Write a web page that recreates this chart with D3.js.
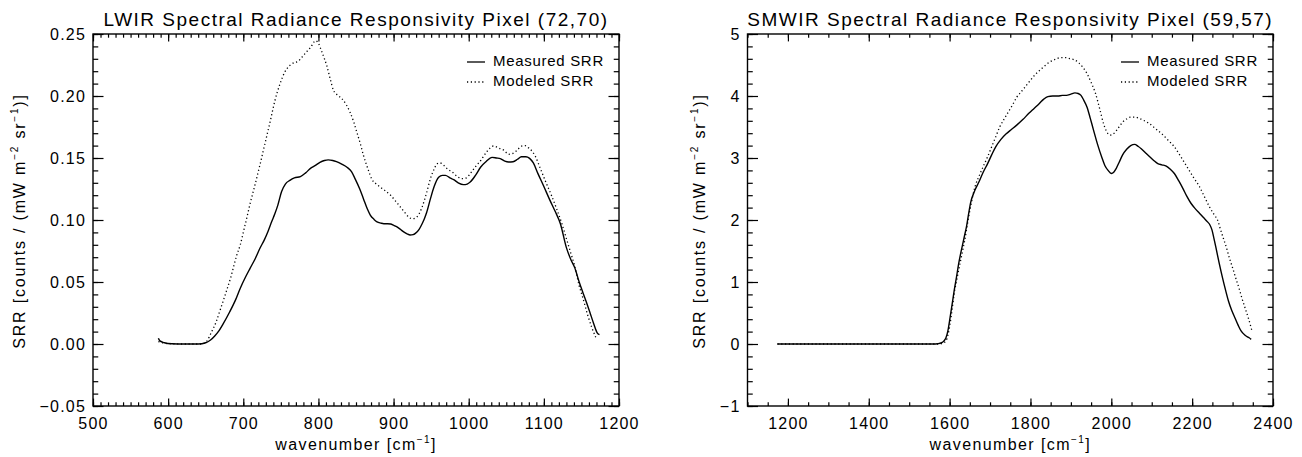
<!DOCTYPE html>
<meta charset="utf-8">
<style>
  body { margin: 0; padding: 0; background: #fff; }
  svg { display: block; font-family: "Liberation Sans", Arial, sans-serif; }
  .tick text { font-size: 16px; letter-spacing: 1.2px; fill: #000; }
  .domain { display: none; }
  .tick line { stroke: #000; stroke-width: 1.2; }
  .title { font-size: 19px; letter-spacing: 1.5px; }
  .axis-title { font-size: 16px; letter-spacing: 1.4px; }
  .y-title { letter-spacing: 1.8px; }
  .legend { font-size: 15px; letter-spacing: 0.7px; }
</style>
<script src="https://d3js.org/d3.v7.min.js"></script>
<body>
<div id="chart"></div>
<script>

// ---- LWIR panel, pixel (72,70) ----
var lwirMeasWn = [587, 589, 595, 605, 620, 640, 650, 656, 662, 668, 673, 682, 690, 696, 703, 709, 716, 722, 728, 733,
  738, 742, 746, 751, 756, 762, 768, 776, 783, 789, 796, 802, 808, 813, 819, 824, 831, 838, 844, 849,
  855, 860, 865, 869, 874, 878, 883, 887, 892, 896, 900, 904, 909, 913, 918, 922, 926, 929, 934, 938,
  941, 944, 949, 954, 960, 965, 969, 975, 980, 986, 993, 998, 1002, 1009, 1016, 1023, 1031, 1037, 1042, 1048,
  1053, 1059, 1065, 1070, 1076, 1081, 1086, 1092, 1100, 1108, 1115, 1122, 1130, 1136, 1141, 1147, 1152, 1157, 1161, 1166,
  1171, 1174];
var lwirMeas = [0.0046, 0.0025, 0.001, 0.0002, 0.0, 0.0, 0.001, 0.003, 0.0065, 0.011, 0.016, 0.026, 0.036, 0.045, 0.054, 0.061, 0.069, 0.077, 0.084, 0.091,
  0.099, 0.105, 0.112, 0.123, 0.129, 0.132, 0.134, 0.135, 0.138, 0.1414, 0.144, 0.1465, 0.148, 0.1485, 0.148, 0.147, 0.145, 0.1425, 0.139, 0.133,
  0.125, 0.117, 0.109, 0.104, 0.1005, 0.0985, 0.0975, 0.097, 0.097, 0.0968, 0.0958, 0.0946, 0.0925, 0.0906, 0.0888, 0.0879, 0.0882, 0.0892, 0.0925, 0.097,
  0.101, 0.106, 0.117, 0.127, 0.1345, 0.136, 0.136, 0.134, 0.1325, 0.130, 0.1285, 0.129, 0.1306, 0.136, 0.1427, 0.147, 0.1505, 0.150, 0.1495, 0.1475,
  0.1468, 0.147, 0.149, 0.151, 0.151, 0.1497, 0.146, 0.1376, 0.127, 0.116, 0.107, 0.097, 0.0777, 0.068, 0.0616, 0.050, 0.0414, 0.033, 0.026, 0.017,
  0.009, 0.0075];

var lwirModWn = [587, 600, 620, 645, 651, 658, 664, 669, 674, 678, 683, 687, 691, 696, 700, 704, 709, 715, 722, 729,
  736, 742, 749, 755, 762, 768, 773, 779, 784, 790, 796, 800, 804, 808, 811, 816, 820, 826, 831, 837,
  842, 847, 851, 856, 860, 866, 871, 877, 882, 889, 896, 903, 909, 915, 920, 925, 929, 934, 938, 944,
  949, 954, 958, 962, 967, 972, 978, 985, 991, 997, 1002, 1009, 1016, 1024, 1033, 1040, 1047, 1053, 1058, 1064,
  1070, 1075, 1080, 1085, 1089, 1095, 1103, 1110, 1117, 1124, 1130, 1136, 1141, 1147, 1152, 1158, 1164, 1170];
var lwirMod = [0.002, 0.0003, 0.0, 0.0, 0.002, 0.01, 0.018, 0.027, 0.036, 0.0435, 0.053, 0.062, 0.071, 0.08, 0.09, 0.1, 0.113, 0.127, 0.144, 0.162,
  0.18, 0.196, 0.21, 0.219, 0.2247, 0.227, 0.228, 0.232, 0.2355, 0.2395, 0.2445, 0.2425, 0.2365, 0.230, 0.2247, 0.213, 0.2046, 0.2005, 0.198, 0.193,
  0.187, 0.179, 0.171, 0.161, 0.152, 0.141, 0.133, 0.129, 0.1266, 0.1235, 0.12, 0.115, 0.1105, 0.106, 0.1024, 0.101, 0.1016, 0.105, 0.1105, 0.122,
  0.1333, 0.141, 0.1454, 0.146, 0.144, 0.141, 0.1387, 0.135, 0.1333, 0.134, 0.1374, 0.143, 0.148, 0.155, 0.1597, 0.158, 0.1562, 0.153, 0.1535, 0.156,
  0.1595, 0.16, 0.158, 0.155, 0.151, 0.142, 0.130, 0.12, 0.109, 0.097, 0.085, 0.073, 0.063, 0.047, 0.037, 0.024, 0.013, 0.004];

// ---- SMWIR panel, pixel (59,57) ----
var smwirMeasWn = [1174, 1250, 1350, 1450, 1520, 1560, 1570, 1580, 1586, 1591, 1596, 1601, 1606, 1611, 1617, 1622, 1627, 1632, 1637, 1642,
  1647, 1652, 1662, 1673, 1683, 1694, 1704, 1714, 1727, 1740, 1753, 1766, 1781, 1796, 1809, 1822, 1833, 1843, 1855, 1868,
  1879, 1889, 1900, 1910, 1918, 1925, 1932, 1940, 1948, 1956, 1966, 1976, 1984, 1992, 2000, 2006, 2012, 2020, 2028, 2038,
  2048, 2058, 2066, 2074, 2085, 2095, 2105, 2115, 2125, 2136, 2146, 2156, 2167, 2177, 2187, 2197, 2208, 2218, 2228, 2238,
  2244, 2249, 2254, 2259, 2267, 2275, 2283, 2290, 2298, 2306, 2314, 2321, 2331, 2341, 2346];
var smwirMeas = [0, 0, 0, 0, 0, 0, 0.005, 0.02, 0.05, 0.1, 0.22, 0.42, 0.63, 0.85, 1.08, 1.28, 1.45, 1.6, 1.75, 1.9,
  2.1, 2.28, 2.47, 2.62, 2.77, 2.91, 3.05, 3.18, 3.3, 3.39, 3.46, 3.53, 3.62, 3.72, 3.8, 3.88, 3.95, 3.99, 4.0, 4.0,
  4.01, 4.01, 4.03, 4.05, 4.04, 4.01, 3.93, 3.82, 3.64, 3.45, 3.22, 3.02, 2.88, 2.8, 2.75, 2.77, 2.83, 2.94, 3.05, 3.14,
  3.2, 3.22, 3.19, 3.15, 3.08, 3.02, 2.96, 2.91, 2.89, 2.87, 2.82, 2.75, 2.63, 2.51, 2.38, 2.27, 2.18, 2.11, 2.04, 1.97,
  1.92, 1.84, 1.7, 1.55, 1.3, 1.07, 0.86, 0.69, 0.54, 0.42, 0.3, 0.21, 0.14, 0.1, 0.075];

var smwirModWn = [1174, 1250, 1350, 1450, 1520, 1570, 1580, 1591, 1596, 1601, 1606, 1611, 1619, 1627, 1632, 1637, 1642, 1647, 1652, 1663,
  1673, 1683, 1694, 1704, 1714, 1724, 1735, 1745, 1756, 1766, 1776, 1786, 1797, 1807, 1817, 1827, 1838, 1848, 1861, 1874,
  1887, 1899, 1910, 1920, 1930, 1940, 1950, 1961, 1971, 1981, 1989, 1997, 2003, 2010, 2019, 2028, 2038, 2048, 2058, 2069,
  2082, 2095, 2110, 2125, 2140, 2156, 2171, 2187, 2202, 2218, 2230, 2243, 2254, 2264, 2269, 2277, 2285, 2292, 2300, 2308,
  2316, 2323, 2331, 2339, 2346, 2348];
var smwirMod = [0, 0, 0, 0, 0, 0, 0.005, 0.05, 0.15, 0.32, 0.55, 0.8, 1.08, 1.34, 1.5, 1.66, 1.85, 2.05, 2.22, 2.54,
  2.71, 2.86, 3.02, 3.18, 3.34, 3.5, 3.63, 3.74, 3.86, 3.98, 4.06, 4.14, 4.23, 4.31, 4.38, 4.44, 4.5, 4.55, 4.59, 4.62,
  4.62, 4.6, 4.58, 4.53, 4.46, 4.36, 4.22, 4.04, 3.8, 3.55, 3.42, 3.37, 3.38, 3.42, 3.5, 3.58, 3.63, 3.66, 3.66, 3.64,
  3.6, 3.55, 3.47, 3.39, 3.29, 3.18, 3.03, 2.86, 2.7, 2.54, 2.38, 2.21, 2.09, 1.98, 1.87, 1.71, 1.55, 1.39, 1.23, 1.06,
  0.9, 0.74, 0.58, 0.42, 0.26, 0.21];

// axis ticks
var lwirXTicks = [500, 600, 700, 800, 900, 1000, 1100, 1200];
var lwirYTicks = [-0.05, 0.00, 0.05, 0.10, 0.15, 0.20, 0.25];
var smwirXTicks = [1200, 1400, 1600, 1800, 2000, 2200, 2400];
var smwirYTicks = [-1, 0, 1, 2, 3, 4, 5];

var legendLabels = ["Measured SRR", "Modeled SRR"];

var width = 1302, height = 457;
var svg = d3.select("#chart").append("svg")
    .attr("width", width)
    .attr("height", height);

function drawPanel(p) {
  var x = d3.scaleLinear().domain(p.xDomain).range([p.left, p.right]);
  var y = d3.scaleLinear().domain(p.yDomain).range([p.bottom, p.top]);
  var g = svg.append("g");

  var xMinor = d3.range(p.xDomain[0], p.xDomain[1] + 1e-9, p.xMinorStep);
  var yMinor = d3.range(p.yDomain[0], p.yDomain[1] + 1e-9, p.yMinorStep);
  var xLen = 7.4, yLen = 10.5;  // IDL style inward ticks

  // bottom
  g.append("g").attr("transform", "translate(0," + p.bottom + ")")
    .call(d3.axisBottom(x).tickValues(xMinor).tickSize(-xLen / 2).tickFormat(""));
  g.append("g").attr("transform", "translate(0," + p.bottom + ")")
    .call(d3.axisBottom(x).tickValues(p.xTicks).tickSize(-xLen).tickPadding(12).tickFormat(d3.format("d")));
  // top
  g.append("g").attr("transform", "translate(0," + p.top + ")")
    .call(d3.axisTop(x).tickValues(xMinor).tickSize(-xLen / 2).tickFormat(""));
  g.append("g").attr("transform", "translate(0," + p.top + ")")
    .call(d3.axisTop(x).tickValues(p.xTicks).tickSize(-xLen).tickFormat(""));
  // left
  g.append("g").attr("transform", "translate(" + p.left + ",0)")
    .call(d3.axisLeft(y).tickValues(yMinor).tickSize(-yLen / 2).tickFormat(""));
  g.append("g").attr("transform", "translate(" + p.left + ",0)")
    .call(d3.axisLeft(y).tickValues(p.yTicks).tickSize(-yLen).tickPadding(7).tickFormat(p.yFormat));
  // right
  g.append("g").attr("transform", "translate(" + p.right + ",0)")
    .call(d3.axisRight(y).tickValues(yMinor).tickSize(-yLen / 2).tickFormat(""));
  g.append("g").attr("transform", "translate(" + p.right + ",0)")
    .call(d3.axisRight(y).tickValues(p.yTicks).tickSize(-yLen).tickFormat(""));

  // frame
  g.append("rect")
    .attr("x", p.left).attr("y", p.top)
    .attr("width", p.right - p.left).attr("height", p.bottom - p.top)
    .attr("fill", "none").attr("stroke", "#000").attr("stroke-width", 1.4);

  var line = d3.line().curve(d3.curveMonotoneX);

  g.append("path")
    .attr("d", line(p.modWn.map(function(d, i) { return [x(d), y(p.mod[i])]; })))
    .attr("fill", "none").attr("stroke", "#000").attr("stroke-width", 1.3)
    .attr("stroke-dasharray", "1.2,2.6");
  g.append("path")
    .attr("d", line(p.measWn.map(function(d, i) { return [x(d), y(p.meas[i])]; })))
    .attr("fill", "none").attr("stroke", "#000").attr("stroke-width", 1.4);

  // title
  g.append("text").attr("class", "title")
    .attr("x", (p.left + p.right) / 2).attr("y", 26)
    .attr("text-anchor", "middle")
    .text(p.title);

  // x axis title
  var xt = g.append("text").attr("class", "axis-title")
    .attr("x", (p.left + p.right) / 2).attr("y", 450)
    .attr("text-anchor", "middle");
  xt.append("tspan").text("wavenumber [cm");
  xt.append("tspan").attr("dy", -7).style("font-size", "10px").text("−1");
  xt.append("tspan").attr("dy", 7).text("]");

  // y axis title
  var yt = g.append("text").attr("class", "axis-title y-title")
    .attr("transform", "translate(" + p.yTitleX + "," + ((p.top + p.bottom) / 2 + 1) + ") rotate(-90)")
    .attr("text-anchor", "middle");
  yt.append("tspan").text("SRR [counts / (mW m");
  yt.append("tspan").attr("dy", -7).style("font-size", "10px").text("−2");
  yt.append("tspan").attr("dy", 7).text(" sr");
  yt.append("tspan").attr("dy", -7).style("font-size", "10px").text("−1");
  yt.append("tspan").attr("dy", 7).text(")]");

  // legend
  var lx = p.right - 152, ly = 62;
  legendLabels.forEach(function(lbl, i) {
    g.append("line")
      .attr("x1", lx).attr("x2", lx + 18)
      .attr("y1", ly + i * 20).attr("y2", ly + i * 20)
      .attr("stroke", "#000").attr("stroke-width", 1.3)
      .attr("stroke-dasharray", i === 0 ? null : "1.2,2.6");
    g.append("text").attr("class", "legend")
      .attr("x", lx + 26).attr("y", ly + 4 + i * 20)
      .text(lbl);
  });
}

drawPanel({
  title: "LWIR Spectral Radiance Responsivity Pixel (72,70)",
  left: 93, right: 619, top: 34, bottom: 406,
  xDomain: [500, 1200], yDomain: [-0.05, 0.25],
  xTicks: lwirXTicks, yTicks: lwirYTicks,
  xMinorStep: 10, yMinorStep: 0.01,
  yFormat: d3.format(".2f"),
  yTitleX: 25,
  measWn: lwirMeasWn, meas: lwirMeas, modWn: lwirModWn, mod: lwirMod
});

drawPanel({
  title: "SMWIR Spectral Radiance Responsivity Pixel (59,57)",
  left: 747.5, right: 1273, top: 34, bottom: 406,
  xDomain: [1100, 2400], yDomain: [-1, 5],
  xTicks: smwirXTicks, yTicks: smwirYTicks,
  xMinorStep: 50, yMinorStep: 0.2,
  yFormat: d3.format("d"),
  yTitleX: 705,
  measWn: smwirMeasWn, meas: smwirMeas, modWn: smwirModWn, mod: smwirMod
});

</script>
</body>
